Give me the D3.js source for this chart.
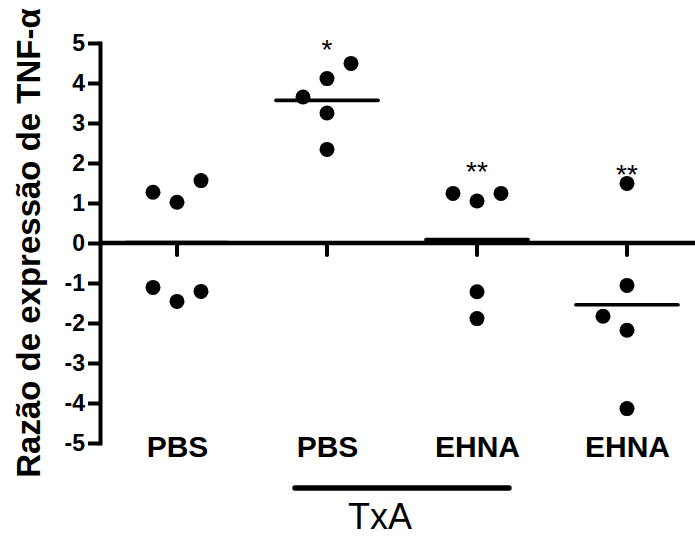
<!DOCTYPE html>
<html>
<head>
<meta charset="utf-8">
<script src="https://cdn.jsdelivr.net/npm/d3@7"></script>
<style>
  body { margin: 0; background: #fff; }
  text { font-family: Arial, 'Liberation Sans', sans-serif; fill: #000; }
</style>
</head>
<body>
<div id="chart-area"></div>
<script>
/* Data */
const categories = ['PBS', 'PBS', 'EHNA', 'EHNA']
const values = [
  [1.27, 1.02, 1.56, -1.11, -1.46, -1.21],
  [3.65, 4.11, 4.49, 3.25, 2.34],
  [1.24, 1.05, 1.24, -1.22, -1.89],
  [1.49, -1.06, -1.83, -2.18, -4.14]
]
// side-by-side slot of each dot (-1 left, 0 centre, 1 right)
const slots = [
  [-1, 0, 1, -1, 0, 1],
  [-1, 0, 1, 0, 0],
  [-1, 0, 1, 0, 0],
  [0, 0, -1, 0, 0]
]
const stars = ['', '*', '**', '**']
const starLevel = [null, 4.99, 1.94, 1.87]
const yTicks = d3.range(-5, 6)
const bracketGroups = [1, 2]
const bracketLabel = 'TxA'
const yTitle = 'Razão de expressão de TNF-α'

/* Canvas */
const CANVAS_WIDTH = 695
const CANVAS_HEIGHT = 538
const margin = { top: 43, left: 100 }
const plotHeight = 400

const $svg = d3.select('#chart-area')
  .append('svg')
  .attr('width', CANVAS_WIDTH)
  .attr('height', CANVAS_HEIGHT)

/* Scales */
const x = d3.scalePoint()
  .domain(d3.range(categories.length))
  .range([177, 627])

const y = d3.scaleLinear()
  .domain([-5, 5])
  .range([margin.top + plotHeight, margin.top])

const slotX = d3.scaleLinear().domain([-1, 1]).range([-24, 24])

/* Mean lines (drawn first so the zero line covers a mean near 0) */
$svg.selectAll('.mean')
  .data(values)
  .enter().append('line')
  .attr('class', 'mean')
  .attr('x1', (d, g) => x(g) - 51).attr('x2', (d, g) => x(g) + 51)
  .attr('y1', d => y(d3.mean(d))).attr('y2', d => y(d3.mean(d)))
  .attr('stroke', '#000').attr('stroke-width', 3.7)
  .attr('stroke-linecap', 'round')

/* Y axis */
const $yAxis = $svg.append('g')
  .attr('transform', `translate(${margin.left}, 0)`)
  .call(d3.axisLeft(y).tickValues(yTicks).tickSize(12).tickSizeOuter(0).tickPadding(3)
    .tickFormat(d => String(d)))

$yAxis.select('.domain').attr('stroke-width', 4).attr('stroke-linecap', 'square')
$yAxis.selectAll('.tick line').attr('stroke-width', 4)
$yAxis.selectAll('.tick text')
  .attr('font-size', 23)
  .attr('font-weight', 'bold')
  .attr('font-family', 'Arial, Liberation Sans, sans-serif')

// y title
$svg.append('text')
  .attr('transform', `translate(40, ${y(0)}) rotate(-90)`)
  .attr('text-anchor', 'middle')
  .attr('font-size', 33)
  .attr('font-weight', 'bold')
  .text(yTitle)

/* Zero line with category ticks */
$svg.append('line')
  .attr('x1', margin.left).attr('x2', CANVAS_WIDTH)
  .attr('y1', y(0)).attr('y2', y(0))
  .attr('stroke', '#000').attr('stroke-width', 4.5)

$svg.selectAll('.cat-tick')
  .data(x.domain())
  .enter().append('line')
  .attr('class', 'cat-tick')
  .attr('x1', d => x(d)).attr('x2', d => x(d))
  .attr('y1', y(0)).attr('y2', y(0) + 12)
  .attr('stroke', '#000').attr('stroke-width', 4)
  .attr('stroke-linecap', 'round')

/* Category labels */
const $xAxis = $svg.append('g')
  .attr('transform', `translate(0, ${y(-5) - 7})`)
  .call(d3.axisBottom(x).tickSize(0).tickPadding(0).tickFormat(i => categories[i]))

$xAxis.select('.domain').remove()
$xAxis.selectAll('.tick text')
  .attr('font-size', 30)
  .attr('font-weight', 'bold')
  .attr('font-family', 'Arial, Liberation Sans, sans-serif')

/* Dots */
const points = values.flatMap((vals, g) => vals.map((v, i) => ({ g, v, slot: slots[g][i] })))

$svg.selectAll('circle')
  .data(points)
  .enter().append('circle')
  .attr('cx', d => x(d.g) + slotX(d.slot))
  .attr('cy', d => y(d.v))
  .attr('r', 7.5)
  .attr('fill', '#000')

/* Significance stars */
$svg.selectAll('.star')
  .data(stars)
  .enter().append('text')
  .attr('class', 'star')
  .attr('x', (d, g) => x(g))
  .attr('y', (d, g) => starLevel[g] == null ? 0 : y(starLevel[g]) + 16)
  .attr('text-anchor', 'middle')
  .attr('font-size', 28)
  .text(d => d)

/* TxA bracket */
const bx1 = x(bracketGroups[0]) - 32
const bx2 = x(bracketGroups[1]) + 32
$svg.append('line')
  .attr('x1', bx1).attr('x2', bx2)
  .attr('y1', 488).attr('y2', 488)
  .attr('stroke', '#000').attr('stroke-width', 5.5)
  .attr('stroke-linecap', 'round')

$svg.append('text')
  .attr('x', (bx1 + bx2) / 2 - 22)
  .attr('y', 529)
  .attr('text-anchor', 'middle')
  .attr('font-size', 36)
  .text(bracketLabel)
</script>
</body>
</html>
